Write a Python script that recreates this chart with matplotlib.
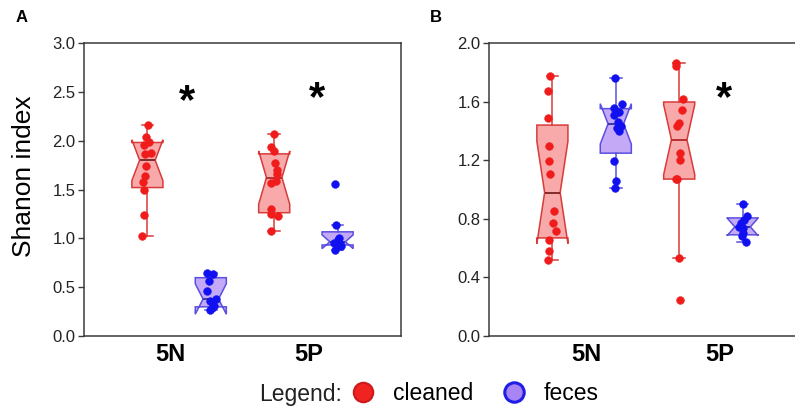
import numpy as np
import matplotlib
matplotlib.use("Agg")
import matplotlib.pyplot as plt
from matplotlib.lines import Line2D

plt.rcParams['font.family'] = ['Liberation Sans', 'DejaVu Sans']

groups = ["5N", "5P"]
series = ["cleaned", "feces"]

# Panel A (Shannon index)
a_5n_cleaned = [2.157, 2.04, 1.99, 1.955, 1.876, 1.86, 1.74, 1.638, 1.58, 1.50, 1.238, 1.024]
a_5n_feces = [0.641, 0.634, 0.56, 0.464, 0.379, 0.358, 0.307, 0.29, 0.266]
a_5p_cleaned = [2.067, 1.934, 1.897, 1.768, 1.699, 1.658, 1.586, 1.566, 1.303, 1.249, 1.225, 1.072]
a_5p_feces = [1.556, 1.133, 1.00, 0.985, 0.965, 0.949, 0.94, 0.924, 0.88]

# Panel B
b_5n_cleaned = [1.775, 1.670, 1.488, 1.295, 1.197, 1.104, 0.855, 0.773, 0.719, 0.653, 0.580, 0.517]
b_5n_feces = [1.763, 1.581, 1.559, 1.531, 1.506, 1.463, 1.433, 1.422, 1.401, 1.197, 1.058, 1.008]
b_5p_cleaned = [1.866, 1.843, 1.616, 1.541, 1.456, 1.434, 1.247, 1.201, 1.07, 1.075, 0.532, 0.246]
b_5p_feces = [0.901, 0.82, 0.792, 0.773, 0.745, 0.739, 0.701, 0.68, 0.642]

# horizontal jitter of the dots (pixels)
jit_a = [[1, -1, 2, -3, 4, -2, -1, -2, -4, -3, -3, -5],
         [-4, 2, -2, -4, 5, -1, 3, 1, -1],
         [0, -3, 0, 1, 3, 3, 2, -3, -3, -3, 4, -3],
         [-3, -2, 1, 0, 0, -4, 2, 3, -3]]
jit_b = [[-2, -4, -4, -3, -3, -2, 2, 1, 4, -3, -3, -4],
         [-1, 6, -2, 3, -2, 2, 5, 1, 3, -2, 0, -1],
         [-3, -3, 4, 3, 0, -2, 1, 1, -3, -2, 0, 1],
         [0, 4, 1, -2, -4, 0, 0, -1, 3]]

y_ticks_a = [0.0, 0.5, 1.0, 1.5, 2.0, 2.5, 3.0]
y_ticks_b = [0.0, 0.4, 0.8, 1.2, 1.6, 2.0]

RED_FACE = '#f8aaaa'
RED_EDGE = '#d93a3a'
RED_DOT = '#f01c1c'
BLUE_FACE = '#c4aaf6'
BLUE_EDGE = '#5a4fe0'
BLUE_DOT = '#1010f0'
SPINE = '#3a3a3a'


def box_stats(vals):
    a = np.asarray(vals, dtype=float)
    q1, med, q3 = np.percentile(a, [25, 50, 75], method='weibull')
    iqr = q3 - q1
    lo_f, hi_f = q1 - 1.5 * iqr, q3 + 1.5 * iqr
    h = 1.57 * iqr / np.sqrt(len(a))
    return dict(med=med, q1=q1, q3=q3,
                whislo=a[a >= lo_f].min(), whishi=a[a <= hi_f].max(),
                cilo=med - h, cihi=med + h, fliers=[])


def draw_panel(ax, data, jits, px_per_unit, label_pos):
    positions = [0.75, 1.25, 1.75, 2.25]
    faces = [RED_FACE, BLUE_FACE, RED_FACE, BLUE_FACE]
    edges = [RED_EDGE, BLUE_EDGE, RED_EDGE, BLUE_EDGE]
    meds = ['#7a2020', '#3030a0', '#b02828', '#3030a0']
    dots = [RED_DOT, BLUE_DOT, RED_DOT, BLUE_DOT]
    for vals, jit, pos, fc, ec, mc, dc in zip(data, jits, positions, faces, edges, meds, dots):
        st = box_stats(vals)
        ax.bxp([st], positions=[pos], widths=0.245, shownotches=True, patch_artist=True,
               showfliers=False, capwidths=0.09,
               boxprops=dict(facecolor=fc, edgecolor=ec, linewidth=1.1),
               whiskerprops=dict(color=ec, linewidth=1.1),
               capprops=dict(color=ec, linewidth=1.1),
               medianprops=dict(color=mc, linewidth=1.3))
        xs = pos + np.asarray(jit) / px_per_unit
        ax.scatter(xs, vals, s=32, color=dc, edgecolors=dc, linewidths=0.3, zorder=5)
    ax.set_xlim(0.25, 2.75)
    ax.set_xticks(label_pos)
    ax.set_xticklabels(groups, fontsize=17, fontweight='bold')
    ax.tick_params(axis='x', length=0, pad=5)
    ax.tick_params(axis='y', length=4, width=1, color=SPINE, labelsize=12,
                   labelcolor='#222222', pad=2)
    for sp in ['left', 'top', 'bottom', 'right']:
        ax.spines[sp].set_color(SPINE)
        ax.spines[sp].set_linewidth(1.1)


fig = plt.figure(figsize=(7.95, 4.08), dpi=100)
W, H = 795.0, 408.0
axA = fig.add_axes([84 / W, 1 - 336 / H, 317 / W, 293 / H])
axB = fig.add_axes([489 / W, 1 - 336 / H, 317 / W, 293 / H])

draw_panel(axA, [a_5n_cleaned, a_5n_feces, a_5p_cleaned, a_5p_feces], jit_a, 126.8, [0.93, 2.02])
axA.set_ylim(0, 3.0)
axA.set_yticks(y_ticks_a)
axA.set_yticklabels([f"{t:.1f}" for t in y_ticks_a])
axA.set_ylabel("Shanon index", fontsize=19)
axA.yaxis.set_label_coords(-0.152, 0.545)

draw_panel(axB, [b_5n_cleaned, b_5n_feces, b_5p_cleaned, b_5p_feces], jit_b, 126.8, [1.02, 2.07])
axB.set_ylim(0, 2.0)
axB.set_yticks(y_ticks_b)
axB.set_yticklabels([f"{t:.1f}" for t in y_ticks_b])

# significance stars
axA.text(1.06, 2.40, "*", fontsize=30, fontweight='bold', ha='center', va='center')
axA.text(2.09, 2.43, "*", fontsize=30, fontweight='bold', ha='center', va='center')
axB.text(2.10, 1.62, "*", fontsize=30, fontweight='bold', ha='center', va='center')

fig.text(22 / W, 1 - 18 / H, "A", fontsize=12, fontweight='bold', ha='center', va='center')
fig.text(436 / W, 1 - 18 / H, "B", fontsize=12, fontweight='bold', ha='center', va='center')

# legend
fig.text(301 / W, 1 - 394 / H, "Legend:", fontsize=16.5, ha='center', va='center', color='#222222')
handles = [Line2D([], [], linestyle='none', marker='o', markersize=14,
                  markerfacecolor='#f02222', markeredgecolor='#cc1a1a', markeredgewidth=1.5),
           Line2D([], [], linestyle='none', marker='o', markersize=14,
                  markerfacecolor='#a884f4', markeredgecolor='#1e1ee6', markeredgewidth=2.2)]
fig.legend(handles, series, loc='center', bbox_to_anchor=(474 / W, 1 - 394 / H), ncol=2,
           frameon=False, fontsize=16.5, handletextpad=0.68, columnspacing=1.2,
           handlelength=1.2, borderaxespad=0, borderpad=0)

fig.savefig("out.png", dpi=100)
